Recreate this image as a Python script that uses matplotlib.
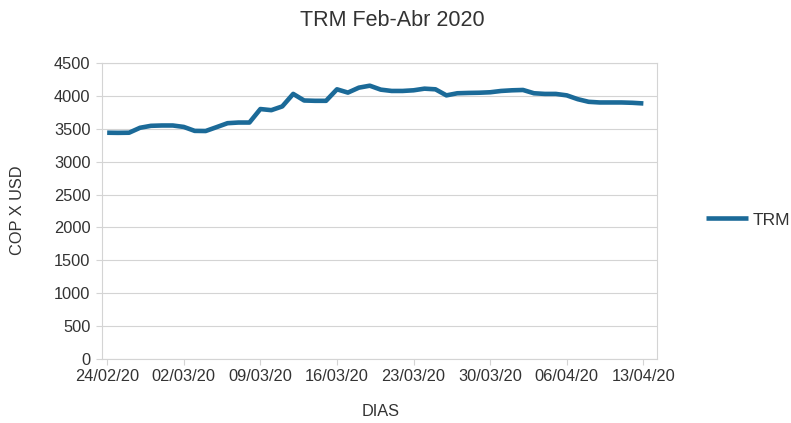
import matplotlib
matplotlib.use("Agg")
import matplotlib.pyplot as plt
import matplotlib.dates as mdates
import pandas as pd

# ---- data ----
start_date = "2020-02-24"
trm_values = [
    3440, 3438, 3440, 3515, 3545, 3550, 3550, 3528, 3468, 3466,   # 24/02 - 04/03
    3525, 3585, 3595, 3595, 3800, 3783, 3840, 4030, 3930, 3925,   # 05/03 - 14/03
    3925, 4100, 4050, 4125, 4155, 4095, 4075, 4075, 4085, 4110,   # 15/03 - 24/03
    4100, 4008, 4040, 4045, 4048, 4055, 4075, 4085, 4090, 4040,   # 25/03 - 03/04
    4030, 4030, 4008, 3950, 3910, 3900, 3900, 3900, 3895, 3885,   # 04/04 - 13/04
]
dates = pd.date_range(start_date, periods=len(trm_values), freq="D")
tick_dates = pd.date_range("2020-02-24", "2020-04-13", freq="7D")
y_ticks = [0, 500, 1000, 1500, 2000, 2500, 3000, 3500, 4000, 4500]

title = "TRM Feb-Abr 2020"
x_label = "DIAS"
y_label = "COP X USD"
series_name = "TRM"

# ---- style ----
plt.rcParams["font.family"] = ["Liberation Sans", "DejaVu Sans"]
text_color = "#333333"
line_color = "#1b6a98"
grid_color = "#d4d4d4"

W, H = 791, 423
fig = plt.figure(figsize=(W / 100, H / 100), dpi=100)
ax = fig.add_axes([101.7 / W, 1 - 359 / H, (656.5 - 101.7) / W, (359 - 63) / H])

ax.plot(dates, trm_values, color=line_color, linewidth=3.3,
        solid_joinstyle="round", solid_capstyle="butt", label=series_name, zorder=3)

x0 = pd.Timestamp(start_date)
ax.set_xlim(x0 - pd.Timedelta(hours=12), x0 + pd.Timedelta(days=50.2))
ax.set_ylim(0, 4500)
ax.set_yticks(y_ticks)
ax.set_xticks(tick_dates)
ax.xaxis.set_major_formatter(mdates.DateFormatter("%d/%m/%y"))

ax.grid(axis="y", color=grid_color, linewidth=0.8, zorder=0)
for s in ax.spines.values():
    s.set_color(grid_color)
    s.set_linewidth(0.8)

ax.tick_params(axis="both", colors=grid_color, labelcolor=text_color,
               labelsize=11.8, length=4, width=0.8)
ax.tick_params(axis="x", pad=3)
ax.tick_params(axis="y", pad=4)

fig.text(392 / W, 1 - 21 / H, title, ha="center", va="center",
         fontsize=15.5, color=text_color)
fig.text(381 / W, 1 - 411 / H, x_label, ha="center", va="center",
         fontsize=11.8, color=text_color)
fig.text(18 / W, 1 - 210 / H, y_label, ha="center", va="center",
         rotation=90, fontsize=11.8, color=text_color)

fig.legend(loc="center left", bbox_to_anchor=(706 / W, 1 - 220 / H),
           frameon=False, fontsize=12.5, handlelength=2.4, handletextpad=0.3,
           labelcolor=text_color, borderaxespad=0, borderpad=0)

fig.savefig("out.png", dpi=100, facecolor="white")
